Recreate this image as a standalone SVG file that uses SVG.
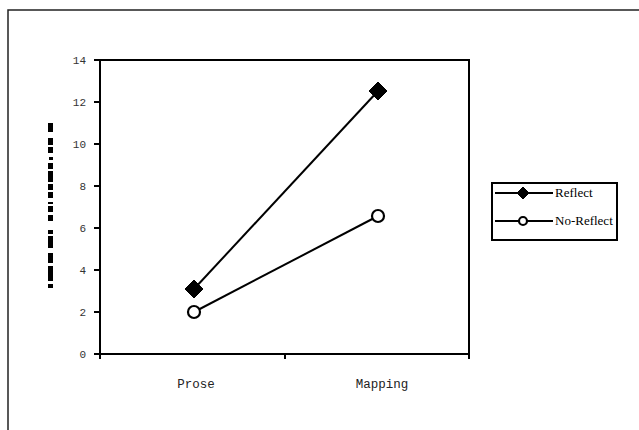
<svg xmlns="http://www.w3.org/2000/svg" width="639" height="430" viewBox="0 0 639 430">
<style>
.frame{fill:none;stroke:#222;stroke-width:1.5}
.axis{fill:none;stroke:#000;stroke-width:2}
.tick{stroke:#000;stroke-width:2}
.ylab{font-family:"Liberation Mono",monospace;font-size:11px;fill:#333;text-anchor:end}
.xlab{font-family:"Liberation Mono",monospace;font-size:12.5px;fill:#222;text-anchor:middle}
.series{fill:none;stroke:#000;stroke-width:2}
.diamond{fill:#000;stroke:#000;stroke-width:1}
.circle{fill:#fff;stroke:#000;stroke-width:2.2}
.leg{font-family:"Liberation Serif",serif;font-size:13px;fill:#000}
.blk{fill:#000}
</style>
<rect width="639" height="430" fill="#fff"/>
<rect class="frame" x="8" y="10" width="640" height="430"/>
<g id="plot-area">
<rect class="axis" x="100" y="60" width="369" height="294"/>
<g id="y-ticks">
<line class="tick" x1="94" y1="60" x2="100" y2="60"/>
<line class="tick" x1="94" y1="102" x2="100" y2="102"/>
<line class="tick" x1="94" y1="144" x2="100" y2="144"/>
<line class="tick" x1="94" y1="186" x2="100" y2="186"/>
<line class="tick" x1="94" y1="228" x2="100" y2="228"/>
<line class="tick" x1="94" y1="270" x2="100" y2="270"/>
<line class="tick" x1="94" y1="312" x2="100" y2="312"/>
<line class="tick" x1="94" y1="354" x2="100" y2="354"/>
<text class="ylab" x="86" y="64">14</text>
<text class="ylab" x="86" y="106">12</text>
<text class="ylab" x="86" y="148">10</text>
<text class="ylab" x="86" y="190">8</text>
<text class="ylab" x="86" y="232">6</text>
<text class="ylab" x="86" y="274">4</text>
<text class="ylab" x="86" y="316">2</text>
<text class="ylab" x="86" y="358">0</text>
</g>
<g id="x-ticks">
<line class="tick" x1="100" y1="354" x2="100" y2="359"/>
<line class="tick" x1="285" y1="354" x2="285" y2="359"/>
<line class="tick" x1="469" y1="354" x2="469" y2="359"/>
<text class="xlab" x="196" y="388">Prose</text>
<text class="xlab" x="382" y="388">Mapping</text>
</g>
<g id="y-axis-label">
<rect class="blk" x="48" y="123" width="5" height="9"/>
<rect class="blk" x="48" y="138" width="5" height="7"/>
<rect class="blk" x="48" y="147" width="5" height="6"/>
<rect class="blk" x="49" y="157" width="4" height="3"/>
<rect class="blk" x="48" y="163" width="5" height="6"/>
<rect class="blk" x="48" y="171" width="5" height="11"/>
<rect class="blk" x="48" y="184" width="5" height="6"/>
<rect class="blk" x="48" y="192" width="5" height="6"/>
<rect class="blk" x="48" y="202" width="5" height="2"/>
<rect class="blk" x="48" y="206" width="5" height="6"/>
<rect class="blk" x="48" y="215" width="5" height="6"/>
<rect class="blk" x="48" y="230" width="5" height="4"/>
<rect class="blk" x="48" y="236" width="5" height="12"/>
<rect class="blk" x="48" y="253" width="5" height="10"/>
<rect class="blk" x="48" y="266" width="5" height="15"/>
<rect class="blk" x="48" y="284" width="5" height="4"/>
</g>
</g>
<g id="connectors">
<line class="series" x1="194" y1="289" x2="378" y2="91"/>
<line class="series" x1="194" y1="312" x2="378" y2="216"/>
</g>
<g id="reflect-prose"><polygon class="diamond" points="194,280 203,289 194,298 185,289"/></g>
<g id="reflect-mapping"><polygon class="diamond" points="378,82 387,91 378,100 369,91"/></g>
<g id="noreflect-prose"><circle class="circle" cx="194" cy="312" r="6"/></g>
<g id="noreflect-mapping"><circle class="circle" cx="378" cy="216" r="6"/></g>
<g id="legend">
<rect x="492" y="183" width="125" height="57" fill="#fff" stroke="#000" stroke-width="2"/>
<line class="series" x1="495" y1="193" x2="553" y2="193"/>
<polygon class="diamond" points="523,187 529,193 523,199 517,193"/>
<text class="leg" x="555" y="197">Reflect</text>
<line class="series" x1="495" y1="221" x2="553" y2="221"/>
<circle class="circle" cx="523" cy="221" r="4"/>
<text class="leg" x="555" y="225">No-Reflect</text>
</g>
</svg>
